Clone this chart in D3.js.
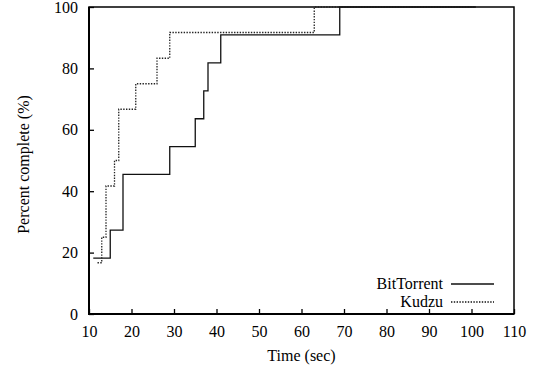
<!DOCTYPE html>
<html>
<head>
<meta charset="utf-8">
<script src="https://cdn.jsdelivr.net/npm/d3@7"></script>
<style>
  body { margin: 0; background: #fff; }
  svg { display: block; }
  text { font-family: "Liberation Serif", "DejaVu Serif", serif; font-size: 16px; fill: #000; }
</style>
</head>
<body>
<svg id="chart" width="536" height="369"></svg>
<script>
// data
var btTime  = [11, 15, 18, 29, 35, 37, 38, 41, 69, 101];
var btPct   = [18.2, 27.3, 45.5, 54.5, 63.6, 72.7, 81.8, 90.9, 100, 100];
var kzTime  = [12, 13, 14, 16, 17, 21, 26, 29, 63, 101];
var kzPct   = [16.7, 25, 41.7, 50, 66.7, 75, 83.3, 91.7, 100, 100];
var xTicks  = [10, 20, 30, 40, 50, 60, 70, 80, 90, 100, 110];
var yTicks  = [0, 20, 40, 60, 80, 100];
var seriesNames = ["BitTorrent", "Kudzu"];

var svg = d3.select("#chart");
// plot box (note: "top" is taken by window.top)
var pLeft = 89, pRight = 514, pTop = 7, pBottom = 314;

var x = d3.scaleLinear().domain([10, 110]).range([pLeft, pRight]);
var y = d3.scaleLinear().domain([0, 100]).range([pBottom, pTop]);

// axes, ticks pointing inward
var xAxis = d3.axisBottom(x).tickValues(xTicks).tickSizeInner(-5).tickSizeOuter(0).tickPadding(12);
var yAxis = d3.axisLeft(y).tickValues(yTicks).tickSizeInner(-5).tickSizeOuter(0).tickPadding(11);

var gx = svg.append("g").attr("transform", "translate(0," + pBottom + ")").call(xAxis);
var gy = svg.append("g").attr("transform", "translate(" + pLeft + ",0)").call(yAxis);

[gx, gy].forEach(function(g){
	g.select(".domain").remove();
	g.selectAll(".tick line").attr("stroke", "#000").attr("stroke-width", 1.3);
	g.selectAll(".tick text")
		.style("font-family", '"Liberation Serif", serif')
		.style("font-size", "16px")
		.attr("fill", "#000");
});

// frame
svg.append("rect")
	.attr("x", pLeft).attr("y", pTop)
	.attr("width", pRight - pLeft).attr("height", pBottom - pTop)
	.attr("fill", "none").attr("stroke", "#000").attr("stroke-width", 1.5);
svg.append("path")
	.attr("d", "M" + pLeft + "," + pTop + "V" + pBottom + "H" + pRight)
	.attr("fill", "none").attr("stroke", "#000").attr("stroke-width", 2);

// step lines
var line = d3.line()
	.x(function(d){ return x(d[0]); })
	.y(function(d){ return y(d[1]); })
	.curve(d3.curveStepAfter);

var btData = d3.zip(btTime, btPct);
var kzData = d3.zip(kzTime, kzPct);

svg.append("path")
	.datum(btData)
	.attr("d", line)
	.attr("fill", "none")
	.attr("stroke", "#111")
	.attr("stroke-width", 1.3);

svg.append("path")
	.datum(kzData)
	.attr("d", line)
	.attr("fill", "none")
	.attr("stroke", "#222")
	.attr("stroke-width", 1.3)
	.attr("stroke-dasharray", "1.4,1.4");

// legend
var legend = svg.append("g");
var legY = [284, 302];
seriesNames.forEach(function(name, i){
	legend.append("text")
		.attr("x", 443).attr("y", legY[i] + 5)
		.attr("text-anchor", "end")
		.text(name);
	legend.append("line")
		.attr("x1", 451).attr("x2", 494)
		.attr("y1", legY[i]).attr("y2", legY[i])
		.attr("stroke", "#111")
		.attr("stroke-width", 1.3)
		.attr("stroke-dasharray", i == 1 ? "1.4,1.4" : null);
});

// axis titles
svg.append("text")
	.attr("x", (pLeft + pRight) / 2).attr("y", 361)
	.attr("text-anchor", "middle")
	.text("Time (sec)");

svg.append("text")
	.attr("transform", "translate(29," + ((pTop + pBottom) / 2 + 4) + ") rotate(-90)")
	.attr("text-anchor", "middle")
	.text("Percent complete (%)");
</script>
</body>
</html>
